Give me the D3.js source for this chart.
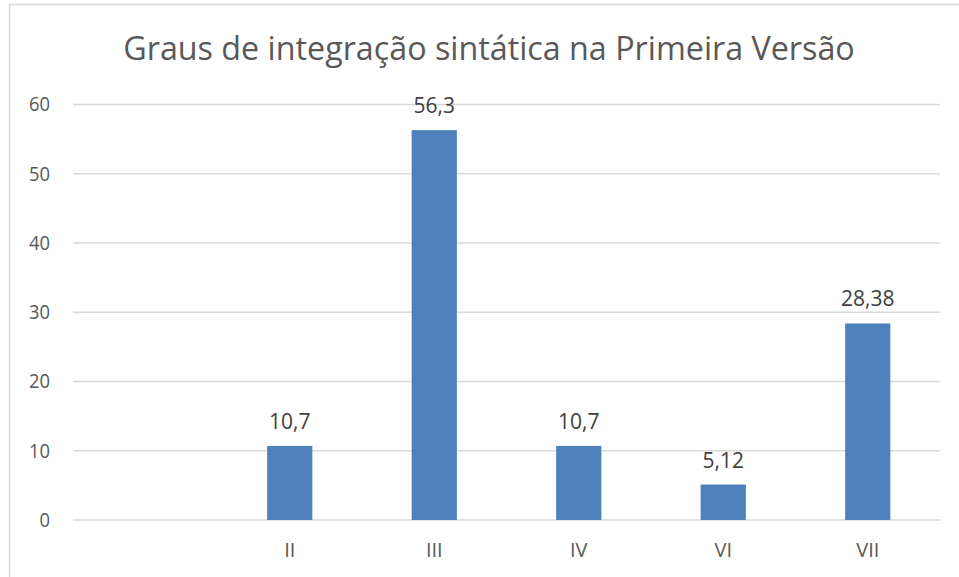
<!DOCTYPE html>
<html><head><meta charset="utf-8">
<script src="https://cdn.jsdelivr.net/npm/d3@7"></script>
<style>body{margin:0;background:#fff;} svg{display:block;}</style>
</head><body>
<svg id="c" width="959" height="577"></svg>
<script>
const categories = ["", "II", "III", "IV", "VI", "VII"];
const values = [null, 10.7, 56.3, 10.7, 5.12, 28.38];
const labels = ["", "10,7", "56,3", "10,7", "5,12", "28,38"];
const yTicks = [0, 10, 20, 30, 40, 50, 60];
const title = "Graus de integração sintática na Primeira Versão";

(function(){
const svg = d3.select("#c");
const font = "'Open Sans', 'Noto Sans', sans-serif";
// outer chart border
svg.append("rect").attr("x", 9.5).attr("y", 4.5).attr("width", 980).attr("height", 600)
  .attr("fill", "#fff").attr("stroke", "#d9d9d9").attr("stroke-width", 1.5);

const mL = 73, mR = 940, mT = 104.5, mB = 520;
const x = d3.scaleBand().domain(categories.map((d,i)=>i)).range([mL, mR]).paddingInner(0.687).paddingOuter(0.3435);
const y = d3.scaleLinear().domain([0, 60]).range([mB, mT]);

// gridlines
svg.append("g").selectAll("line").data(yTicks).join("line")
  .attr("x1", mL).attr("x2", mR)
  .attr("y1", d => y(d)).attr("y2", d => y(d))
  .attr("stroke", "#d9d9d9").attr("stroke-width", 1.5);

// y axis labels
const yAxis = d3.axisLeft(y).tickValues(yTicks).tickSize(0).tickPadding(0);
const ya = svg.append("g").attr("transform", `translate(${50},0)`).call(yAxis);
ya.select(".domain").remove();
ya.selectAll("text").attr("font-family", font).attr("font-size", 20).attr("fill", "#595959")
  .attr("transform", "scale(0.92,1)").attr("x", 0);

// x axis labels
const xAxis = d3.axisBottom(x).tickFormat(i => categories[i]).tickSize(0).tickPadding(0);
const xa = svg.append("g").attr("transform", `translate(0,${557})`).call(xAxis);
xa.select(".domain").remove();
xa.selectAll("text").attr("font-family", font).attr("font-size", 20).attr("fill", "#595959")
  .attr("dy", 0).attr("y", 0);

// bars
const data = categories.map((c, i) => ({i, v: values[i], l: labels[i]})).filter(d => d.v != null);
svg.append("g").selectAll("rect").data(data).join("rect")
  .attr("x", d => x(d.i)).attr("width", x.bandwidth())
  .attr("y", d => y(d.v)).attr("height", d => y(0) - y(d.v))
  .attr("fill", "#4f81bd");

// data labels
svg.append("g").selectAll("text").data(data).join("text")
  .attr("x", d => x(d.i) + x.bandwidth()/2).attr("y", d => y(d.v) - 17)
  .attr("text-anchor", "middle").attr("font-family", font).attr("font-size", 21)
  .attr("fill", "#404040").text(d => d.l);

// title (condensed horizontally to match reference width)
const tg = svg.append("g").attr("transform", "translate(489,60)");
const t = tg.append("text").attr("x", 0).attr("y", 0).attr("text-anchor", "middle")
  .attr("font-family", font).attr("font-size", 33.5).attr("fill", "#595959").text(title);
const w = t.node().getComputedTextLength();
t.attr("transform", `scale(${732 / w},1)`);
})();
</script>
</body></html>
